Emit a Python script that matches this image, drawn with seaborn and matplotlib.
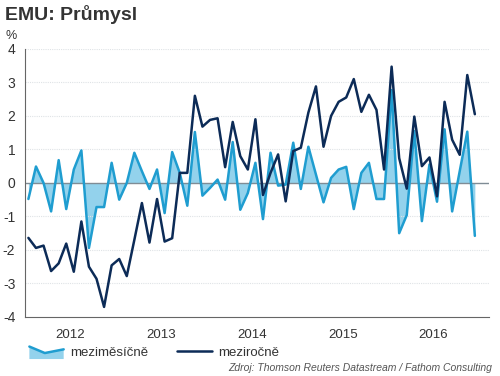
import numpy as np
import pandas as pd
import matplotlib
matplotlib.use('Agg')
import matplotlib.pyplot as plt
from matplotlib.legend_handler import HandlerBase
from matplotlib.patches import Polygon
from matplotlib.lines import Line2D
import seaborn as sns

sns.set_style('white')
plt.rcParams['font.family'] = ['Liberation Sans', 'DejaVu Sans']

# monthly data, Jan 2012 - Dec 2016
mom = [-0.48, 0.49, 0.0, -0.85, 0.68, -0.78, 0.4, 0.97, -1.94, -0.72, -0.72, 0.6,
       -0.5, 0.0, 0.9, 0.35, -0.18, 0.4, -0.9, 0.92, 0.3, -0.68, 1.52, -0.38,
       -0.15, 0.1, -0.5, 1.22, -0.8, -0.3, 0.6, -1.08, 0.9, -0.08, -0.05, 1.2,
       -0.18, 1.08, 0.25, -0.58, 0.15, 0.4, 0.48, -0.78, 0.3, 0.6,
       -0.48, -0.48, 2.77, -1.5, -0.96, 1.55, -1.14, 0.55, -0.56, 1.6, -0.85, 0.35, 1.53, -1.58]
yoy = [-1.64, -1.94, -1.87, -2.63, -2.4, -1.81, -2.65, -1.15, -2.5, -2.86, -3.7, -2.46,
       -2.27, -2.78, -1.7, -0.6, -1.78, -0.48, -1.75, -1.65, 0.3, 0.3, 2.6, 1.68,
       1.88, 1.93, 0.47, 1.82, 0.8, 0.4, 1.9, -0.36, 0.3, 0.85, -0.55, 0.95,
       1.05, 2.1, 2.88, 1.08, 2.0, 2.42, 2.55, 3.1, 2.12, 2.63,
       2.18, 0.4, 3.47, 0.74, -0.17, 1.98, 0.5, 0.76, -0.4, 2.42, 1.29, 0.84, 3.22, 2.05]
year_labels = ['2012', '2013', '2014', '2015', '2016']

t = 2012 + (np.arange(len(mom)) + 0.45) / 12
df = pd.DataFrame({'t': t, 'mom': mom, 'yoy': yoy})

c_light = '#1f9dd0'
c_fill = '#93d2ec'
c_dark = '#0c2b57'
c_text = '#333333'

fig = plt.figure(figsize=(5, 3.76), dpi=100)
ax = fig.add_axes([0.05, 0.157, 0.928, 0.713])

ax.fill_between(df['t'], 0, df['mom'], color=c_fill, lw=0)
ax.axhline(0, color='#7f8c95', lw=1.0, zorder=2)
sns.lineplot(data=df, x='t', y='mom', ax=ax, color=c_light, lw=1.8, zorder=3)
sns.lineplot(data=df, x='t', y='yoy', ax=ax, color=c_dark, lw=1.8, zorder=4)

ax.set_xlim(2012.01, 2017.11)
ax.set_ylim(-4, 4)
ax.set_xlabel('')
ax.set_ylabel('')

for v in [-3, -2, -1, 1, 2, 3, 4]:
    ax.axhline(v, color='#dfe3e6', lw=0.8, ls=(0, (1, 1)), zorder=1)

# x axis: long ticks at year bounds, short at quarters, labels mid-year
ax.set_xticks(np.arange(2012, 2018))
ax.set_xticklabels([])
ax.set_xticks(np.arange(2012, 2017.2, 0.25), minor=True)
ax.tick_params(axis='x', which='major', length=6, width=0.8, color='#555555', direction='out')
ax.tick_params(axis='x', which='minor', length=3, width=0.8, color='#555555', direction='out')
for i, lab in enumerate(year_labels):
    ax.text(2012.5 + i, -4.35, lab, ha='center', va='top', fontsize=9.5, color=c_text)

ax.set_yticks(np.arange(-4, 5))
ax.set_yticklabels([str(v) for v in range(-4, 5)], fontsize=10, color=c_text)
ax.set_yticks(np.arange(-4, 4.01, 0.2), minor=True)
ax.tick_params(axis='y', which='major', length=4, width=0.8, color='#555555', direction='out', pad=3)
ax.tick_params(axis='y', which='minor', length=2, width=0.6, color='#888888', direction='out')

for s in ['top', 'right']:
    ax.spines[s].set_visible(False)
for s in ['left', 'bottom']:
    ax.spines[s].set_color('#666666')
    ax.spines[s].set_linewidth(0.8)

fig.text(0.01, 0.962, 'EMU: Průmysl', fontsize=14, fontweight='bold', color=c_text,
         ha='left', va='center')
fig.text(0.012, 0.905, '%', fontsize=9, color=c_text, ha='left', va='center')


class ZigZagHandler(HandlerBase):
    def create_artists(self, legend, orig, xd, yd, w, h, fontsize, trans):
        xs = np.array([0, 0.45, 1.0]) * w - xd
        ys = np.array([1.0, 0.3, 0.7]) * h - yd
        base = -yd - 0.35 * h
        poly = Polygon(list(zip(xs, ys)) + [(xs[-1], base), (xs[0], base)],
                       closed=True, facecolor=c_fill, edgecolor='none', transform=trans)
        line = Line2D(xs, ys, color=c_light, lw=1.8, transform=trans)
        return [poly, line]


h_mom = Polygon([[0, 0]], label='meziměsíčně')
h_yoy = Line2D([], [], color=c_dark, lw=1.8, label='meziročně')
fig.legend(handles=[h_mom, h_yoy], labels=['meziměsíčně', 'meziročně'],
           handler_map={h_mom: ZigZagHandler()},
           loc='center left', bbox_to_anchor=(0.035, 0.062), ncol=2, frameon=False,
           fontsize=9.5, handlelength=2.6, columnspacing=2.2, handletextpad=0.5,
           labelcolor=c_text)

fig.text(0.985, 0.022, 'Zdroj: Thomson Reuters Datastream / Fathom Consulting',
         fontsize=7.5, style='italic', color='#555555', ha='right', va='center')

fig.savefig('out.png', dpi=100)
